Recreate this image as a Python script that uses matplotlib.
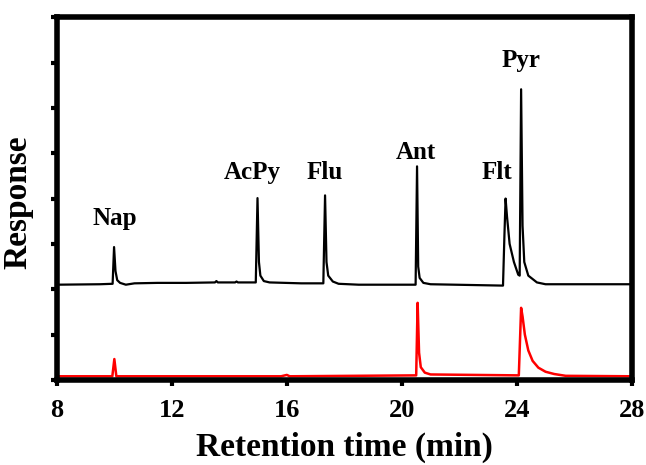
import matplotlib

matplotlib.use("Agg")
import matplotlib.pyplot as plt

# black trace (standard mix)
std_time = [8.0, 9.5, 9.94, 9.99, 10.04, 10.1, 10.2, 10.4, 10.7, 11.5, 12.5, 13.5, 13.55, 13.6,
            14.2, 14.25, 14.3, 14.92, 14.98, 15.03, 15.08, 15.2, 15.4, 16.5, 17.27, 17.33, 17.38,
            17.44, 17.6, 17.8, 18.5, 20.48, 20.53, 20.57, 20.62, 20.75, 21.0, 23.52, 23.57,
            23.61, 23.66, 23.75, 23.9, 24.05, 24.1, 24.15, 24.2, 24.26, 24.4, 24.7, 25.0, 28.0]
std_resp = [2.10, 2.11, 2.12, 2.93, 2.40, 2.20, 2.14, 2.10, 2.13, 2.14, 2.14, 2.15, 2.18, 2.15,
            2.15, 2.17, 2.15, 2.15, 4.01, 2.60, 2.30, 2.18, 2.15, 2.13, 2.13, 4.07, 2.60,
            2.30, 2.17, 2.12, 2.10, 2.10, 4.71, 2.50, 2.25, 2.14, 2.11, 2.08, 3.20, 4.00,
            3.60, 3.00, 2.60, 2.32, 2.30, 6.41, 3.40, 2.60, 2.30, 2.15, 2.11, 2.11]

# red trace (sample)
smp_time = [8.0, 9.93, 10.0, 10.07, 15.8, 16.0, 16.1, 20.5, 20.55, 20.6, 20.66, 20.8,
            21.0, 24.07, 24.15, 24.2, 24.28, 24.4, 24.55, 24.75, 25.0, 25.3, 25.7, 28.0]
smp_resp = [0.08, 0.08, 0.46, 0.08, 0.08, 0.11, 0.08, 0.10, 1.70, 0.60, 0.28, 0.16,
            0.12, 0.10, 1.59, 1.40, 1.00, 0.65, 0.42, 0.27, 0.18, 0.13, 0.09, 0.08]

peak_names = ["Nap", "AcPy", "Flu", "Ant", "Flt", "Pyr"]
label_x = [10.0, 14.8, 17.3, 20.5, 23.3, 24.15]
label_y = [3.57, 4.58, 4.58, 5.02, 4.58, 7.05]

plt.rcParams["font.family"] = ["Liberation Serif", "DejaVu Serif"]
plt.rcParams["font.weight"] = "bold"

fig = plt.figure(figsize=(6.46, 4.65), dpi=100)
ax = fig.add_axes([0.088, 0.183, 0.89, 0.78])

ax.plot(std_time, std_resp, color="black", lw=1.6)
ax.plot(smp_time, smp_resp, color="red", lw=1.8)

for name, x, y in zip(peak_names, label_x, label_y):
    ax.text(x, y, name, ha="center", va="center", fontsize=18, fontweight="bold")

ax.set_xlim(8, 28)
ax.set_ylim(0, 8)
ax.set_xticks([8, 12, 16, 20, 24, 28])
ax.set_yticks(range(0, 9))
ax.set_yticklabels([])
ax.tick_params(axis="both", direction="out", length=4, width=3, labelsize=19, pad=10)
for lab in ax.get_xticklabels():
    lab.set_fontweight("bold")
for sp in ax.spines.values():
    sp.set_linewidth(4)

ax.set_xlabel("Retention time (min)", fontsize=24, fontweight="bold")
ax.set_ylabel("Response", fontsize=24, fontweight="bold")
ax.xaxis.set_label_coords(0.5, -0.143)
ax.yaxis.set_label_coords(-0.04, 0.49)

fig.savefig("out.png", dpi=100)
